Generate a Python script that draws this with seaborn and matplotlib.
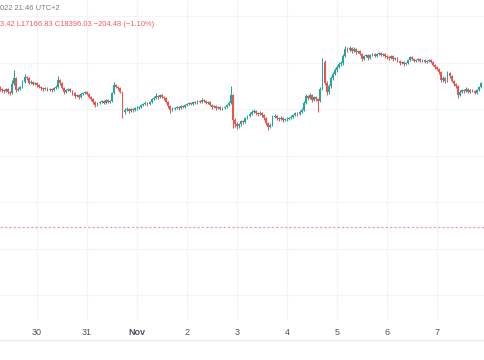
import pandas as pd
import numpy as np
import matplotlib
matplotlib.use("Agg")
import matplotlib.pyplot as plt
import seaborn as sns

# hourly candles, Oct 29 06:00 -> Nov 7 21:00 (UTC+2)
first_open = 21180
closes = [
    21160, 21140, 21120, 21160, 21100, 21080, 21260, 21380, 21140, 21160, 21200, 21300, 21400, 21380, 21280, 21300, 21260, 21280,
    21240, 21200, 21180, 21160, 21180, 21140, 21160, 21140, 21180, 21200, 21340, 21280, 21180, 21100, 21140, 21160, 21120, 21080, 21020, 21040, 21000, 21060, 21080, 21100,
    21060, 21000, 20960, 20900, 20840, 20880, 20900, 20920, 20880, 20940, 20900, 20920, 21080, 21240, 21200, 21180, 21100, 20700, 20740, 20760, 20720, 20760, 20740, 20780,
    20780, 20800, 20840, 20860, 20880, 20860, 20900, 20960, 20980, 21020, 21000, 21040, 21000, 20980, 20900, 20820, 20740, 20760, 20780, 20800, 20780, 20820, 20800, 20840,
    20860, 20880, 20860, 20900, 20880, 20920, 20900, 20940, 20920, 20880, 20900, 20840, 20800, 20820, 20780, 20800, 20760, 20780, 20800, 20840, 20880, 21040, 20540, 20460,
    20420, 20460, 20520, 20500, 20580, 20620, 20660, 20700, 20720, 20680, 20660, 20680, 20640, 20580, 20480, 20400, 20440, 20600, 20620, 20580, 20560, 20580, 20540, 20560,
    20560, 20580, 20600, 20640, 20680, 20660, 20700, 20740, 20880, 21020, 20980, 21040, 20940, 21000, 20960, 20920, 21160, 21700, 21280, 21100, 21220, 21380, 21460, 21540,
    21600, 21660, 21680, 21820, 21960, 21940, 21980, 21920, 21960, 21900, 21920, 21860, 21760, 21820, 21840, 21780, 21840, 21860, 21820, 21860, 21880, 21840, 21860, 21820,
    21800, 21780, 21820, 21760, 21780, 21720, 21680, 21700, 21660, 21680, 21740, 21800, 21760, 21720, 21740, 21760, 21720, 21740, 21700, 21720, 21740, 21700, 21640, 21600,
    21560, 21500, 21340, 21380, 21320, 21480, 21420, 21320, 21260, 21220, 21040, 21100, 21140, 21120, 21160, 21100, 21140, 21120, 21080, 21140, 21200, 21280,
]
highs = [
    21220, 21180, 21160, 21180, 21180, 21120, 21340, 21540, 21400, 21200, 21220, 21340, 21460, 21420, 21400, 21340, 21320, 21300,
    21300, 21260, 21220, 21200, 21200, 21200, 21180, 21180, 21200, 21240, 21420, 21360, 21300, 21200, 21160, 21180, 21180, 21140, 21100, 21060, 21060, 21080, 21100, 21120,
    21120, 21080, 21020, 20980, 20920, 20900, 20920, 20940, 20940, 20960, 20960, 20940, 21100, 21300, 21260, 21220, 21200, 21120, 20780, 20800, 20780, 20780, 20780, 20800,
    20820, 20820, 20860, 20880, 20920, 20900, 20920, 20980, 21020, 21080, 21040, 21060, 21060, 21020, 21000, 20920, 20840, 20800, 20800, 20820, 20820, 20840, 20840, 20860,
    20880, 20900, 20900, 20920, 20920, 20940, 20940, 20980, 20960, 20940, 20920, 20920, 20860, 20840, 20840, 20820, 20820, 20800, 20820, 20860, 20920, 21220, 21060, 20580,
    20500, 20480, 20540, 20540, 20600, 20640, 20700, 20740, 20760, 20740, 20700, 20720, 20700, 20660, 20600, 20500, 20480, 20640, 20660, 20640, 20600, 20620, 20600, 20580,
    20600, 20600, 20640, 20660, 20700, 20700, 20740, 20780, 20920, 21060, 21040, 21080, 21060, 21020, 21020, 20980, 21200, 21780, 21740, 21320, 21260, 21420, 21500, 21580,
    21640, 21700, 21720, 21860, 22020, 22000, 22020, 22000, 22000, 21980, 21940, 21940, 21880, 21840, 21860, 21860, 21860, 21880, 21880, 21880, 21900, 21900, 21880, 21880,
    21840, 21820, 21840, 21840, 21800, 21800, 21740, 21720, 21720, 21700, 21760, 21820, 21820, 21780, 21760, 21780, 21780, 21760, 21760, 21740, 21760, 21760, 21720, 21660,
    21620, 21580, 21520, 21420, 21400, 21520, 21500, 21440, 21340, 21280, 21240, 21140, 21160, 21160, 21200, 21180, 21160, 21160, 21140, 21160, 21220, 21300,
]
lows = [
    21120, 21100, 21080, 21100, 21060, 21040, 21060, 21240, 21100, 21120, 21140, 21180, 21280, 21340, 21260, 21260, 21240, 21240,
    21200, 21180, 21140, 21120, 21140, 21120, 21120, 21100, 21120, 21160, 21180, 21240, 21160, 21060, 21080, 21120, 21100, 21040, 20980, 21000, 20960, 20980, 21040, 21060,
    21040, 20980, 20920, 20860, 20800, 20820, 20860, 20880, 20860, 20860, 20880, 20880, 20900, 21060, 21180, 21140, 21080, 20580, 20660, 20720, 20680, 20700, 20700, 20720,
    20740, 20760, 20780, 20820, 20840, 20820, 20840, 20880, 20940, 20960, 20960, 20980, 20980, 20940, 20880, 20780, 20680, 20720, 20740, 20760, 20740, 20760, 20780, 20780,
    20820, 20840, 20840, 20840, 20860, 20860, 20880, 20880, 20900, 20860, 20860, 20820, 20760, 20780, 20740, 20760, 20740, 20740, 20760, 20780, 20820, 20860, 20380, 20400,
    20360, 20380, 20420, 20460, 20480, 20560, 20600, 20640, 20680, 20640, 20620, 20640, 20600, 20540, 20440, 20340, 20380, 20420, 20580, 20540, 20520, 20540, 20500, 20520,
    20520, 20540, 20560, 20580, 20620, 20620, 20640, 20680, 20720, 20860, 20940, 20960, 20900, 20920, 20920, 20700, 20900, 21140, 21240, 21040, 21060, 21180, 21340, 21440,
    21500, 21580, 21620, 21640, 21800, 21900, 21920, 21880, 21900, 21860, 21880, 21840, 21720, 21740, 21800, 21740, 21760, 21820, 21800, 21800, 21840, 21820, 21820, 21780,
    21760, 21740, 21760, 21720, 21740, 21700, 21640, 21660, 21620, 21640, 21660, 21720, 21740, 21700, 21700, 21720, 21700, 21700, 21680, 21680, 21700, 21680, 21620, 21560,
    21540, 21460, 21300, 21300, 21280, 21300, 21380, 21300, 21220, 21180, 20980, 21020, 21080, 21080, 21100, 21080, 21080, 21100, 21060, 21060, 21120, 21180,
]
day_ticks = ["2022-10-30", "2022-10-31", "2022-11-01", "2022-11-02", "2022-11-03",
             "2022-11-04", "2022-11-05", "2022-11-06", "2022-11-07"]
day_labels = ["30", "31", "Nov", "2", "3", "4", "5", "6", "7"]
grid_levels = [22620, 21690, 20760, 19830, 18900, 17970, 17040]
last_price = 18400

green = "#26a69a"
red = "#ef5350"

df = pd.DataFrame({"close": closes, "high": highs, "low": lows})
df["open"] = [first_open] + closes[:-1]  # each candle opens at the previous close
df["time"] = pd.date_range("2022-10-29 06:00", periods=len(df), freq="h")
df["color"] = np.where(df["close"] >= df["open"], green, red)

sns.set_theme(style="white")
plt.rcParams["font.family"] = ["Liberation Sans", "DejaVu Sans"]

fig = plt.figure(figsize=(4.85, 3.6), dpi=100)
ax = fig.add_axes([0, 40 / 360, 1, 320 / 360])

body = (df["close"] - df["open"]).replace(0, 10)
ax.vlines(df["time"], df["low"], df["high"], colors=df["color"], linewidth=0.75)
ax.bar(df["time"], body, bottom=df["open"], width=0.85 / 24, color=df["color"], linewidth=0)

ax.axhline(last_price, color="#f0a0ae", lw=0.9, linestyle=(0, (2, 1.5)))

t0 = pd.Timestamp("2022-10-30")
ax.set_xlim(t0 - pd.Timedelta(days=0.74), t0 + pd.Timedelta(days=8.96))
ax.set_ylim(16540, 22940)

ax.set_yticks(grid_levels)
ax.set_xticks(pd.to_datetime(day_ticks))
ax.set_xticklabels(day_labels)
ax.grid(True, color="#f4f4f7", linewidth=0.8)
ax.set_axisbelow(True)
ax.tick_params(axis="y", left=False, labelleft=False)
ax.tick_params(axis="x", length=0, pad=6, labelsize=6.5, labelcolor="#50535e")
for lab in ax.get_xticklabels():
    if lab.get_text() == "Nov":
        lab.set_fontweight("bold")
for s in ax.spines.values():
    s.set_visible(False)

fig.add_artist(plt.Line2D([0, 1], [20 / 360, 20 / 360], transform=fig.transFigure,
                          color="#f0e8ec", lw=1))

# legend header (cut off at the left edge)
hdr_font = ["Liberation Sans Narrow", "Liberation Sans", "DejaVu Sans"]
fig.text(0, 1 - 8 / 360, "022 21:46 UTC+2", fontsize=5.4, color="#787b86",
         va="center", family=hdr_font)
fig.text(0, 1 - 24 / 360, "3.42 L17166.83 C18396.03 \u2212204.48 (\u22121.10%)",
         fontsize=5.4, color="#ef5a65", va="center", family=hdr_font)

fig.savefig("out.png", dpi=100)
